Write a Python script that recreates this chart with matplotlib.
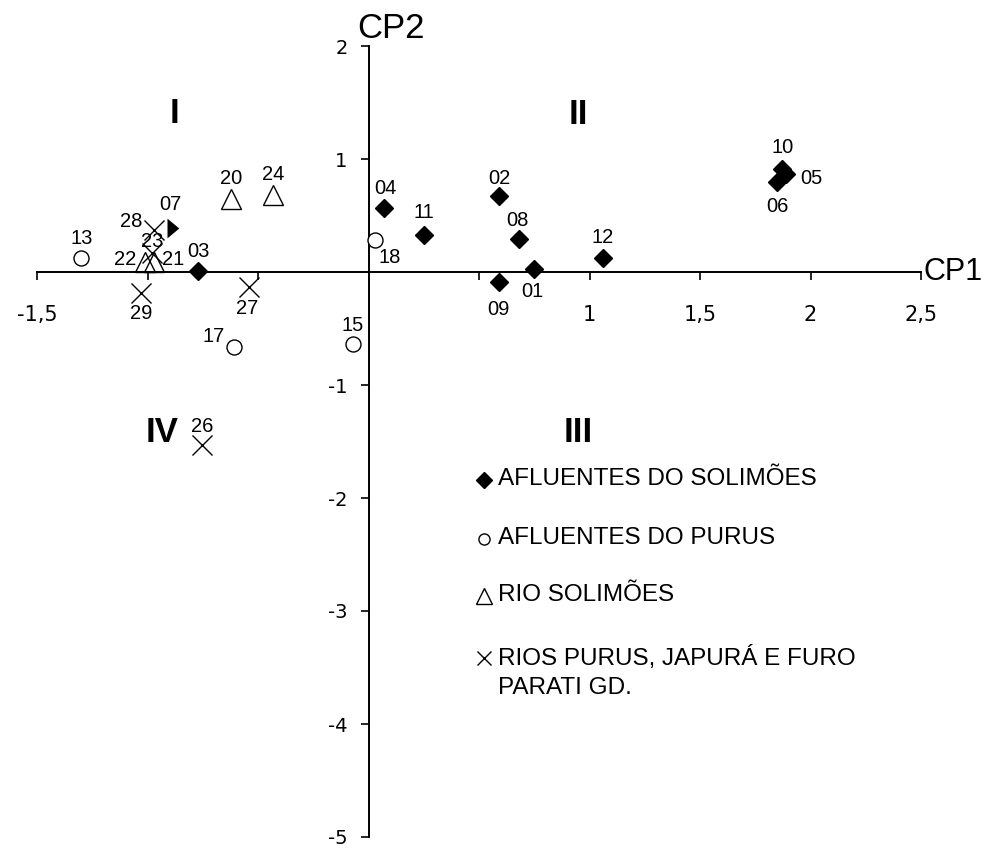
import matplotlib
matplotlib.use("Agg")
import matplotlib.pyplot as plt
from matplotlib.lines import Line2D

plt.rcParams['font.family'] = ['Liberation Sans', 'DejaVu Sans']

# --- data (CP1, CP2) ---
sol_labels = ['01', '02', '03', '04', '05', '06', '08', '09', '10', '11', '12']
sol_cp1 = [0.75, 0.59, -0.77, 0.07, 1.89, 1.85, 0.68, 0.59, 1.87, 0.25, 1.06]
sol_cp2 = [0.03, 0.67, 0.01, 0.57, 0.87, 0.80, 0.29, -0.09, 0.91, 0.33, 0.12]

# site 07 is drawn half hidden in the original
half_labels = ['07']
half_cp1 = [-0.91]
half_cp2 = [0.39]

purus_labels = ['13', '15', '17', '18']
purus_cp1 = [-1.30, -0.07, -0.61, 0.03]
purus_cp2 = [0.12, -0.64, -0.66, 0.28]

rio_sol_labels = ['20', '21', '22', '24']
rio_sol_cp1 = [-0.62, -0.97, -1.01, -0.43]
rio_sol_cp2 = [0.65, 0.09, 0.09, 0.68]

rios_labels = ['23', '26', '27', '28', '29']
rios_cp1 = [-0.98, -0.755, -0.54, -0.97, -1.03]
rios_cp2 = [0.17, -1.53, -0.13, 0.37, -0.19]

legend_names = ['AFLUENTES DO SOLIMÕES', 'AFLUENTES DO PURUS', 'RIO SOLIMÕES',
                'RIOS PURUS, JAPURÁ E FURO\nPARATI GD.']

xticks = [-1.5, -1, -0.5, 0.5, 1, 1.5, 2, 2.5]
xtick_labels = ['-1,5', '', '', '', '1', '1,5', '2', '2,5']
yticks = [-5, -4, -3, -2, -1, 1, 2]
ytick_labels = ['-5', '-4', '-3', '-2', '-1', '1', '2']

quadrants = ['I', 'II', 'III', 'IV']

# label offsets in pixels (dx right, dy up) relative to the marker
PX = 0.72
label_offsets = {
    '01': (-2, -23), '02': (0, 18), '03': (0, 19), '04': (1, 19),
    '05': (25, -5), '06': (0, -25), '07': (3, 23), '08': (-1, 19),
    '09': (0, -27), '10': (1, 22), '11': (0, 22), '12': (0, 21),
    '13': (0, 20), '15': (0, 19), '17': (-20, 10), '18': (15, -17),
    '20': (0, 20), '21': (19, 2), '22': (-20, 2), '23': (0, 11),
    '24': (0, 21), '26': (1, 18), '27': (-2, -22), '28': (-23, 9),
    '29': (0, -20),
}
quad_pos = [(-0.876, 1.40), (0.95, 1.39), (0.95, -1.42), (-0.934, -1.42)]

W, H = 997, 848
fig = plt.figure(figsize=(W / 100, H / 100), dpi=100)
ax = fig.add_axes([37 / W, 11 / H, 884 / W, 791 / H])
ax.set_xlim(-1.5, 2.5)
ax.set_ylim(-5, 2)

for s in ['top', 'right']:
    ax.spines[s].set_visible(False)
for s in ['left', 'bottom']:
    ax.spines[s].set_position(('data', 0))
    ax.spines[s].set_linewidth(1.4)

ax.set_xticks(xticks)
ax.set_xticklabels(xtick_labels, family='DejaVu Sans')
ax.set_yticks(yticks)
ax.set_yticklabels(ytick_labels, family='DejaVu Sans')
ax.tick_params(axis='x', direction='out', length=5.5, width=1.2, pad=18, labelsize=15)
ax.tick_params(axis='y', direction='out', length=6, width=1.2, pad=9, labelsize=14)

half_diamond = [(0, -1), (1.2, 0), (0, 1), (0, -1)]

ax.plot(sol_cp1, sol_cp2, 'D', ms=8.7, color='black', mec='black', zorder=3)
ax.plot(half_cp1, half_cp2, linestyle='none', marker=half_diamond, ms=17,
        color='black', mew=0, zorder=3)
ax.plot(purus_cp1, purus_cp2, 'o', ms=10.8, mfc='white', mec='black', mew=1.0, zorder=3)
ax.plot(rio_sol_cp1, rio_sol_cp2, '^', ms=14.4, mfc='none', mec='black', mew=1.0, zorder=3)
ax.plot(rios_cp1, rios_cp2, 'x', ms=13.7, color='black', mew=1.0, zorder=3)

for labs, xs, ys in [(sol_labels, sol_cp1, sol_cp2), (half_labels, half_cp1, half_cp2),
                     (purus_labels, purus_cp1, purus_cp2),
                     (rio_sol_labels, rio_sol_cp1, rio_sol_cp2),
                     (rios_labels, rios_cp1, rios_cp2)]:
    for lab, x, y in zip(labs, xs, ys):
        dx, dy = label_offsets[lab]
        ax.annotate(lab, (x, y), xytext=(dx * PX, dy * PX), textcoords='offset points',
                    ha='center', va='center', fontsize=14.5)

for q, (qx, qy) in zip(quadrants, quad_pos):
    ax.text(qx, qy, q, ha='center', va='center', fontsize=25, fontweight='bold')

# axis names
ax.annotate('CP1', (2.5, 0), xytext=(2, 0), textcoords='offset points',
            ha='left', va='center', fontsize=22, annotation_clip=False)
ax.annotate('CP2', (0, 2), xytext=(16, 1), textcoords='offset points',
            ha='center', va='bottom', fontsize=25, annotation_clip=False)

# legend drawn by hand (marker aligned with first text line)
def afx(px):
    return (px - 37) / 884


def afy(py):
    return (838 - py) / 792


key_styles = [
    dict(marker='D', ms=8, color='black'),
    dict(marker='o', ms=8, mfc='white', mec='black', mew=1.0),
    dict(marker='^', ms=11, mfc='white', mec='black', mew=1.0),
    dict(marker='x', ms=9.5, color='black', mew=1.0),
]
rows_py = [481, 540, 597, 659]
for name, style, py in zip(legend_names, key_styles, rows_py):
    ax.add_line(Line2D([afx(484)], [afy(py)], linestyle='none', transform=ax.transAxes,
                       clip_on=False, **style))
    ax.text(afx(498), afy(py - 12), name, transform=ax.transAxes, ha='left', va='top',
            fontsize=17.5, linespacing=1.4)

fig.savefig('out.png', dpi=100)
